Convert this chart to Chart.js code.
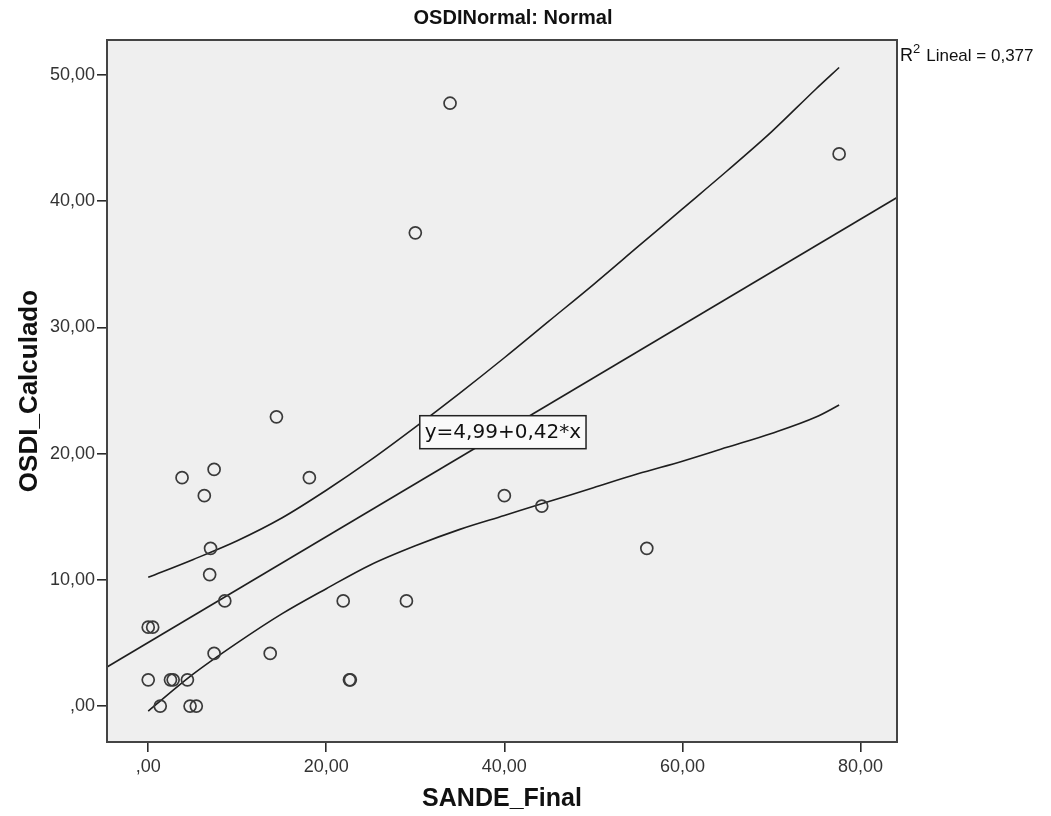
<!DOCTYPE html>
<html lang="es">
<head>
  <meta charset="UTF-8" />
  <title>OSDINormal: Normal</title>
  <script src="https://cdn.jsdelivr.net/npm/chart.js"></script>
  <style>
    body {
      margin: 0;
      background: #ffffff;
    }
  </style>
</head>
<body>
  <canvas id="scatter" width="1051" height="816"></canvas>

  <script>
    // observed values (SANDE_Final vs OSDI_Calculado)
    const sandeFinal = [0, 0.5, 0, 2.5, 2.8, 4.4, 1.35, 4.7, 5.4, 7.4, 8.6, 13.7, 14.4, 3.8, 7.4,
      6.3, 18.1, 7.0, 6.9, 21.9, 29.0, 22.6, 22.7, 33.9, 30.0, 77.6, 40.0, 44.2, 56.0];
    const osdiCalc = [6.25, 6.25, 2.08, 2.08, 2.08, 2.08, 0, 0, 0, 4.17, 8.33, 4.17, 22.92, 18.1, 18.75,
      16.67, 18.1, 12.5, 10.42, 8.33, 8.33, 2.08, 2.08, 47.77, 37.5, 43.75, 16.67, 15.84, 12.5];

    // fit line read at the plot edges
    const fitX = [-4.63, 84.1];
    const fitY = [3.09, 40.3];

    // confidence band for the mean
    const bandX = [0, 5, 10, 15, 20, 25, 30, 35, 40, 45, 50, 55, 60, 65, 70, 75, 77.6];
    const upperBand = [10.2, 11.6, 13.1, 14.9, 17.1, 19.5, 22.1, 24.8, 27.6, 30.5, 33.4, 36.4, 39.4, 42.4, 45.5, 48.9, 50.6];
    const lowerBand = [-0.4, 2.5, 5.0, 7.3, 9.3, 11.2, 12.7, 14.0, 15.1, 16.2, 17.3, 18.4, 19.4, 20.5, 21.6, 22.9, 23.85];

    const xTicks = [0, 20, 40, 60, 80];
    const yTicks = [0, 10, 20, 30, 40, 50];

    const chartTitle = "OSDINormal: Normal";
    const fitLabel = "y=4,99+0,42*x";
    const r2Value = "0,377";

    const FONT = "'Liberation Sans', Arial, sans-serif";
    const INK = "#2b2b2b";

    const zip = (xs, ys) => xs.map((x, i) => ({ x: x, y: ys[i] }));
    const fmt = v => v === 0 ? ",00" : v.toFixed(2).replace(".", ",");

    const frame = {
      id: "frame",
      beforeDraw(chart) {
        const { ctx, chartArea: a } = chart;
        ctx.save();
        ctx.fillStyle = "#efefef";
        ctx.fillRect(a.left, a.top, a.right - a.left, a.bottom - a.top);
        ctx.restore();
      },
      afterDatasetsDraw(chart) {
        const { ctx, chartArea: a, scales } = chart;
        ctx.save();
        // equation box
        ctx.font = "20px 'DejaVu Sans', Verdana, sans-serif";
        const w = ctx.measureText(fitLabel).width + 10;
        const h = 33;
        const bx = scales.x.getPixelForValue(30.5);
        const by = scales.y.getPixelForValue(21.7) - h / 2;
        ctx.fillStyle = "#f9f9f9";
        ctx.fillRect(bx, by, w, h);
        ctx.strokeStyle = "#222";
        ctx.lineWidth = 1.5;
        ctx.strokeRect(bx, by, w, h);
        ctx.fillStyle = "#111";
        ctx.textBaseline = "middle";
        ctx.fillText(fitLabel, bx + 5, by + h / 2 + 1);
        // plot frame
        ctx.strokeStyle = "#444";
        ctx.lineWidth = 2;
        ctx.strokeRect(a.left, a.top, a.right - a.left, a.bottom - a.top);
        ctx.restore();
      },
      afterDraw(chart) {
        const { ctx, chartArea: a } = chart;
        ctx.save();
        ctx.fillStyle = "#111";
        ctx.textAlign = "center";
        ctx.textBaseline = "middle";
        ctx.font = "bold 20px " + FONT;
        ctx.fillText(chartTitle, 513, 18);
        // R2 note
        ctx.textAlign = "left";
        ctx.textBaseline = "alphabetic";
        ctx.font = "18px " + FONT;
        let x = a.right + 3;
        ctx.fillText("R", x, 61);
        x += ctx.measureText("R").width;
        ctx.font = "13px " + FONT;
        ctx.fillText("2", x, 53);
        x += ctx.measureText("2").width + 6;
        ctx.font = "17px " + FONT;
        ctx.fillText("Lineal = " + r2Value, x, 61);
        ctx.restore();
      }
    };

    const lineSet = (data, smooth) => ({
      data: data,
      showLine: true,
      borderColor: "#1e1e1e",
      borderWidth: 1.6,
      pointRadius: 0,
      fill: false,
      tension: smooth ? 0.4 : 0,
      cubicInterpolationMode: smooth ? "monotone" : "default"
    });

    new Chart(document.getElementById("scatter"), {
      type: "scatter",
      data: {
        datasets: [
          {
            data: zip(sandeFinal, osdiCalc),
            pointStyle: "circle",
            pointRadius: 6,
            pointBorderWidth: 1.7,
            pointBorderColor: "#3a3a3a",
            pointBackgroundColor: "rgba(0,0,0,0)"
          },
          lineSet(zip(fitX, fitY), false),
          lineSet(zip(bandX, upperBand), true),
          lineSet(zip(bandX, lowerBand), true)
        ]
      },
      options: {
        responsive: false,
        animation: false,
        devicePixelRatio: 1,
        layout: { padding: { top: 40, right: 154, left: 14, bottom: 0 } },
        plugins: {
          legend: { display: false },
          tooltip: { enabled: false },
          title: { display: false }
        },
        scales: {
          x: {
            type: "linear",
            min: -4.63,
            max: 84.1,
            afterBuildTicks: s => { s.ticks = xTicks.map(v => ({ value: v })); },
            afterFit: s => { s.height = 74; },
            grid: { drawOnChartArea: false, drawTicks: true, tickLength: 10, color: INK, lineWidth: 1.6 },
            border: { display: true, color: INK, width: 2 },
            ticks: {
              callback: v => fmt(v),
              color: "#333",
              font: { family: FONT, size: 18 },
              padding: 4,
              maxRotation: 0,
              autoSkip: false
            },
            title: {
              display: true,
              text: "SANDE_Final",
              color: "#111",
              font: { family: FONT, size: 25, weight: "bold" },
              padding: { top: 0, bottom: 2 }
            }
          },
          y: {
            type: "linear",
            min: -2.85,
            max: 52.78,
            afterBuildTicks: s => { s.ticks = yTicks.map(v => ({ value: v })); },
            afterFit: s => { s.width = 93; },
            grid: { drawOnChartArea: false, drawTicks: true, tickLength: 10, color: INK, lineWidth: 1.6 },
            border: { display: true, color: INK, width: 2 },
            ticks: {
              callback: v => fmt(v),
              color: "#333",
              font: { family: FONT, size: 18 },
              padding: 2
            },
            title: {
              display: true,
              text: "OSDI_Calculado",
              color: "#111",
              font: { family: FONT, size: 26, weight: "bold" },
              padding: { top: 0, bottom: 0 }
            }
          }
        }
      },
      plugins: [frame]
    });
  </script>
</body>
</html>
